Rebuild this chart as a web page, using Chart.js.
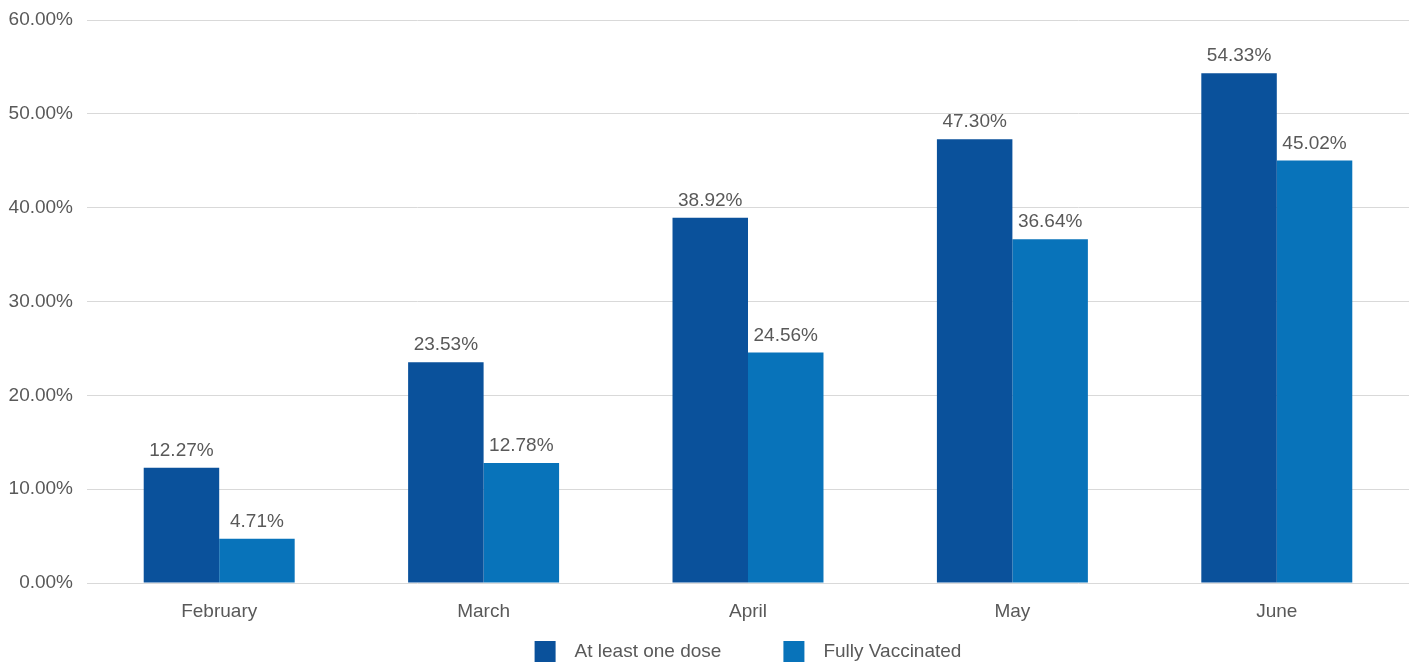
<!DOCTYPE html>
<html>
<head>
<meta charset="utf-8">
<title>Vaccination progress</title>
<script src="https://cdn.jsdelivr.net/npm/chart.js@4/dist/chart.umd.min.js"></script>
<style>
  html, body { margin: 0; padding: 0; background: #fff; }
  #wrap { width: 1416px; height: 662px; position: relative; }
</style>
</head>
<body>
<div id="wrap"><canvas id="vax-chart"></canvas></div>
<script>
"use strict";

const months = ['February', 'March', 'April', 'May', 'June'];
const atLeastOneDose = [12.27, 23.53, 38.92, 47.30, 54.33];
const fullyVaccinated = [4.71, 12.78, 24.56, 36.64, 45.02];
const seriesNames = ['At least one dose', 'Fully Vaccinated'];
const yTicks = [0, 10, 20, 30, 40, 50, 60];

const TEXT_COLOR = '#595959';
const FONT_FAMILY = '"Liberation Sans", Arial, sans-serif';
const FONT_SIZE = 19;

// Percent labels drawn above each bar
const barValueLabels = {
  id: 'barValueLabels',
  afterDatasetsDraw(chart) {
    const ctx = chart.ctx;
    ctx.save();
    ctx.font = `${FONT_SIZE}px ${FONT_FAMILY}`;
    ctx.fillStyle = TEXT_COLOR;
    ctx.textAlign = 'center';
    ctx.textBaseline = 'alphabetic';
    chart.data.datasets.forEach((ds, i) => {
      chart.getDatasetMeta(i).data.forEach((bar, j) => {
        ctx.fillText(ds.data[j].toFixed(2) + '%', bar.x, bar.y - 12);
      });
    });
    ctx.restore();
  }
};

// Simple legend centered under the plot area
const bottomLegend = {
  id: 'bottomLegend',
  afterDraw(chart) {
    const ctx = chart.ctx;
    const area = chart.chartArea;
    const box = 21, textGap = 19, itemGap = 62, top = 641;
    ctx.save();
    ctx.font = `${FONT_SIZE}px ${FONT_FAMILY}`;
    const items = chart.data.datasets.map(ds => ({
      label: ds.label,
      color: ds.backgroundColor,
      width: box + textGap + ctx.measureText(ds.label).width
    }));
    const total = items.reduce((s, it) => s + it.width, 0) + itemGap * (items.length - 1);
    let x = (area.left + area.right) / 2 - total / 2;
    ctx.textBaseline = 'middle';
    ctx.textAlign = 'left';
    items.forEach(it => {
      ctx.fillStyle = it.color;
      ctx.fillRect(x, top, box, box);
      ctx.fillStyle = TEXT_COLOR;
      ctx.fillText(it.label, x + box + textGap, top + box / 2);
      x += it.width + itemGap;
    });
    ctx.restore();
  }
};

new Chart(document.getElementById('vax-chart'), {
  type: 'bar',
  data: {
    labels: months,
    datasets: [
      {
        label: seriesNames[0],
        data: atLeastOneDose,
        backgroundColor: '#0A519B',
        barPercentage: 1,
        categoryPercentage: 0.571
      },
      {
        label: seriesNames[1],
        data: fullyVaccinated,
        backgroundColor: '#0873BA',
        barPercentage: 1,
        categoryPercentage: 0.571
      }
    ]
  },
  options: {
    responsive: true,
    maintainAspectRatio: false,
    animation: false,
    layout: {
      padding: { top: 20, right: 7, bottom: 0, left: 0 }
    },
    plugins: {
      legend: { display: false },
      tooltip: { enabled: false }
    },
    scales: {
      x: {
        grid: { display: false },
        border: { display: false },
        ticks: {
          color: TEXT_COLOR,
          padding: 9,
          font: { family: FONT_FAMILY, size: FONT_SIZE }
        },
        afterFit(scale) { scale.height = 79; }
      },
      y: {
        min: 0,
        max: 60,
        afterBuildTicks(scale) {
          scale.ticks = yTicks.map(v => ({ value: v }));
        },
        grid: { color: '#D9D9D9', lineWidth: 1, drawTicks: false },
        border: { display: false },
        ticks: {
          color: TEXT_COLOR,
          padding: 14,
          font: { family: FONT_FAMILY, size: FONT_SIZE },
          callback: v => v.toFixed(2) + '%'
        },
        afterFit(scale) {
          scale.width = 87;
          scale.paddingTop = 0;
          scale.paddingBottom = 0;
        }
      }
    }
  },
  plugins: [barValueLabels, bottomLegend]
});
</script>
</body>
</html>
